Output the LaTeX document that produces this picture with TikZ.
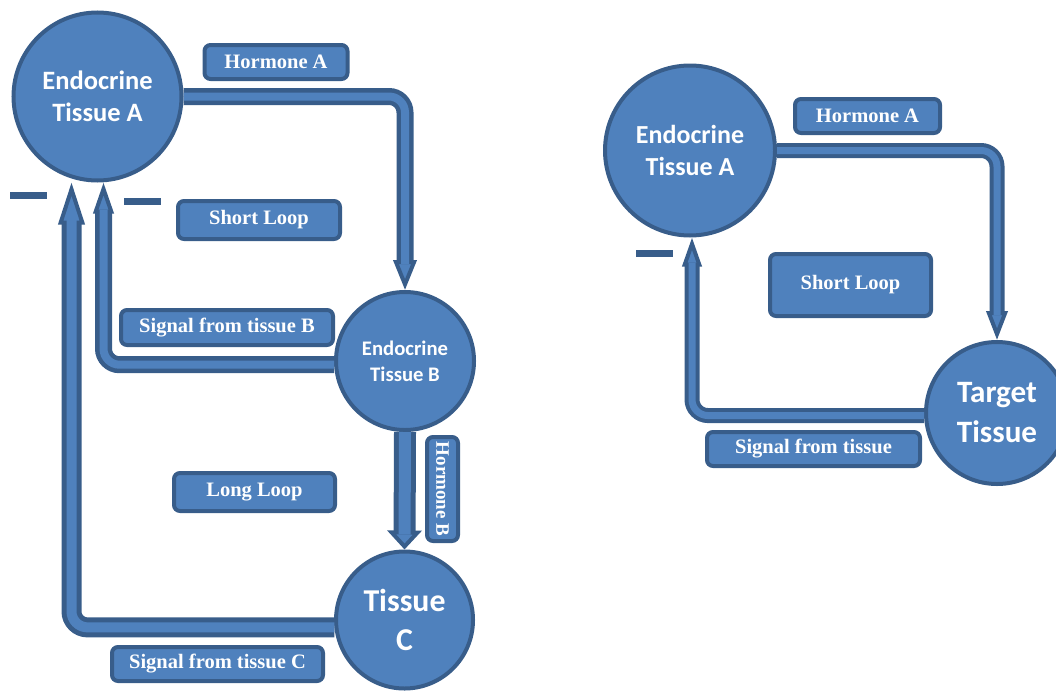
\documentclass[tikz,border=0pt]{standalone}
\usepackage{fontspec}
\setmainfont{Liberation Serif}
\newfontfamily\circfont{Carlito}
\usetikzlibrary{arrows.meta}
\usetikzlibrary{calc}
\definecolor{loopfill}{HTML}{4F81BD}
\definecolor{loopline}{HTML}{385D8A}
\tikzset{
    x=1pt, y=-1pt,
    tissue/.style 2 args={circle, fill=loopfill, draw=loopline, line width=4pt, text=white, align=center, inner sep=0pt, font=\circfont\bfseries\fontsize{#1}{#2}\selectfont},
    tag/.style 2 args={rounded corners=6pt, fill=loopfill, draw=loopline, line width=4pt, text=white, inner sep=0pt, minimum width=#1, minimum height=#2, font=\bfseries\fontsize{20.5}{24}\selectfont},
    minus/.style={fill=loopline, inner sep=0pt, minimum width=37pt, minimum height=7pt},
    flow/.style n args={5}{draw=loopline, line width=#1, rounded corners=16pt, -{Triangle[length=#4, width=#3, fill=loopfill, line width=4pt]}, postaction={draw=loopfill, line width=#2, arrows=-, shorten >=#5}}
}

\begin{document}
\begin{tikzpicture}
\useasboundingbox (0,0) rectangle (1056,696);
% left: long and short loop
\node[tissue={26.5}{32}, minimum size=168pt] (EndoA) at (97.5,96.5) {Endocrine\\Tissue A};
\node[tissue={20.7}{26}, minimum size=138pt] (EndoB) at (405,361) {Endocrine\\Tissue B};
\node[tissue={31.8}{39}, minimum size=137pt] (TisC) at (404.5,620) {Tissue\\C};

\node[tag={143pt}{34pt}] (hormA) at (276,62) {Hormone A};
\node[tag={162pt}{38pt}] (shortL) at (259,220) {Short Loop};
\node[tag={212pt}{35pt}] (sigB) at (227,327.5) {Signal from tissue B};
\node[tag={161pt}{38pt}] (longL) at (254.5,492) {Long Loop};
\node[tag={104pt}{31pt}, rotate=-90, font=\bfseries\fontsize{19}{22}\selectfont] (hormB) at (442.5,489) {Hormone B};
\node[tag={211pt}{34pt}] (sigC) at (217.5,664) {Signal from tissue C};

\node[minus] (negC) at (28,195.5) {};
\node[minus] (negB) at (142,201.5) {};

\coordinate (inB) at ($(EndoA.south)+(6,0)$);
\coordinate (inC) at ($(EndoA.south)+(-26,0)$);

\draw[flow={17pt}{8pt}{23pt}{30pt}{26pt}] (EndoA.east) -| (EndoB.north);
\draw[flow={17pt}{8pt}{20pt}{31pt}{27pt}] (EndoB.183) -| (inB);
\draw[flow={20pt}{10pt}{26pt}{42pt}{37pt}] (TisC.186) -| (inC);
\draw[flow={22pt}{12pt}{34pt}{19pt}{15pt}] (EndoB.south) -- (TisC.north);

% right: short loop only
\node[tissue={26}{32}, minimum size=170pt] (EndoA2) at (690,150.5) {Endocrine\\Tissue A};
\node[tissue={31.1}{40}, minimum size=142pt] (target) at (997,413) {Target\\Tissue};

\node[tag={145pt}{34pt}] (hormA2) at (867.5,116) {Hormone A};
\node[tag={161pt}{62pt}] (shortL2) at (850.5,285) {Short Loop};
\node[tag={213pt}{34pt}] (sigT) at (813.5,449) {Signal from tissue};

\node[minus] (negT) at (654,253.5) {};

\coordinate (inT) at ($(EndoA2.south)+(2,0)$);

\draw[flow={15pt}{7pt}{21pt}{29pt}{25pt}] (EndoA2.east) -| (target.north);
\draw[flow={15pt}{7pt}{19pt}{29pt}{25pt}] (target.182) -| (inT);
\end{tikzpicture}
\end{document}
